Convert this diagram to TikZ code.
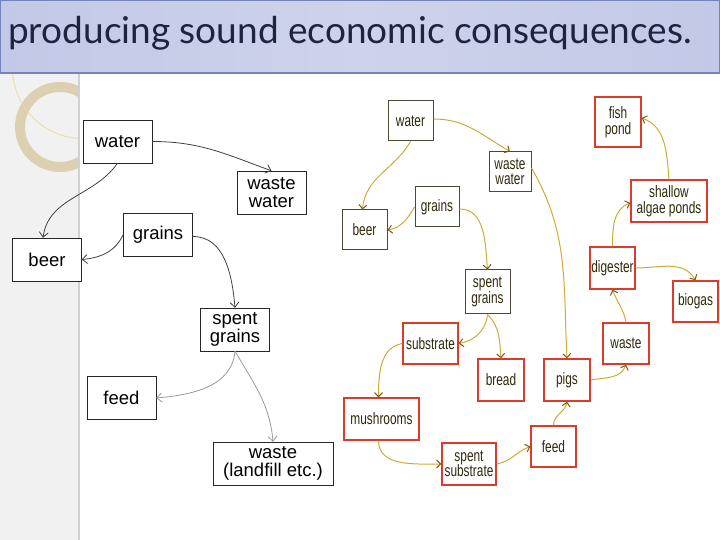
\documentclass[tikz,border=0pt]{standalone}
\usepackage{fontspec}
\setmainfont{Liberation Sans}
\newfontfamily\narrowfont[FakeStretch=0.72]{Liberation Sans}
\newfontfamily\titlefont{Lato}
\usepackage{tikz}
\usetikzlibrary{arrows.meta}
\definecolor{barleft}{HTML}{C2C9E6}
\definecolor{barmid}{HTML}{CDD3EA}
\definecolor{barline}{HTML}{7585BA}
\definecolor{titleink}{HTML}{1E2440}
\definecolor{bandgray}{HTML}{F1F1F1}
\definecolor{ringtan}{HTML}{DDD0B0}
\definecolor{arctan}{HTML}{EBD9A6}
\definecolor{boxbrown}{HTML}{4E4634}
\definecolor{boxred}{HTML}{DB3B2A}
\definecolor{rtext}{HTML}{2E2A0A}
\definecolor{flowgold}{HTML}{D2A836}
\definecolor{tipbrown}{HTML}{7A5A10}

\begin{document}
\begin{tikzpicture}[x=1pt,y=1pt,>={Straight Barb[length=5pt,width=9pt]},
  lbox/.style={draw=black!85,fill=white,align=center,inner sep=1pt,
    minimum width=69pt,minimum height=43pt,font=\fontsize{18.5}{18.5}\selectfont},
  rbox/.style={draw=boxbrown,line width=1pt,fill=white,align=center,inner sep=0pt,
    text=rtext,font=\narrowfont\fontsize{16.5}{15.5}\selectfont},
  redbox/.style={rbox,draw=boxred,line width=1.4pt},
  dflow/.style={->,draw=black!75,line width=0.8pt},
  gflow/.style={->,draw=black!40,line width=0.8pt},
  yflow/.style={-{Straight Barb[length=4pt,width=8pt,color=tipbrown]},draw=flowgold,line width=1pt}]
  \useasboundingbox (0,0) rectangle (720,540);

  % slide background
  \fill[bandgray] (0,0) rectangle (79,467);
  \draw[black!18,line width=2pt] (79,0) -- (79,467);
  \begin{scope}
    \clip (0,0) rectangle (78,467);
    \draw[ringtan,line width=10pt] (60,413) circle (40);
    \draw[arctan,line width=0.8pt] (83,472) circle (70.5);
  \end{scope}

  % title bar
  \shade[left color=barleft,right color=barleft,middle color=barmid] (0,467) rectangle (720,540);
  \draw[barline,line width=1.2pt] (0,467) rectangle (720,540);
  \node[anchor=base west,inner sep=0pt,text=titleink,font=\titlefont\fontsize{37}{40}\selectfont]
    (title) at (8,496) {producing sound economic consequences.};

  % brewery alone
  \node[lbox] (lwater) at (117.5,398.5) {water};
  \node[lbox] (lwastewater) at (271.5,347.5) {waste\\water};
  \node[lbox] (lgrains) at (158,305.5) {grains};
  \node[lbox] (lbeer) at (47,280.5) {beer};
  \node[lbox] (lspent) at (235,210.5) {spent\\grains};
  \node[lbox] (lfeed) at (121.5,142) {feed};
  \node[lbox,minimum width=120pt] (lwaste) at (273,76.5) {waste\\(landfill etc.)};

  \draw[dflow] (lwater.east) to[out=0,in=160] (lwastewater.north);
  \draw[dflow] (lwater.south) to[out=-125,in=82] ([xshift=-4pt]lbeer.north);
  \draw[dflow] (lgrains.west) to[out=-115,in=5] (lbeer.east);
  \draw[dflow] ([yshift=-2pt]lgrains.east) to[out=0,in=95] (lspent.north);
  \draw[gflow] (lspent.south) to[out=-95,in=5] (lfeed.east);
  \draw[gflow] (lspent.south) to[out=-60,in=95] (lwaste.north);

  % integrated system
  \node[rbox,minimum width=45pt,minimum height=40pt] (rwater) at (410.5,419) {water};
  \node[rbox,minimum width=42pt,minimum height=40pt] (rwastewater) at (510,368) {waste\\water};
  \node[rbox,minimum width=44pt,minimum height=40pt] (rgrains) at (437,333) {grains};
  \node[rbox,minimum width=45pt,minimum height=40pt] (rbeer) at (364.5,310) {beer};
  \node[rbox,minimum width=45pt,minimum height=44pt] (rspent) at (487.5,248) {spent\\grains};
  \node[redbox,minimum width=55pt,minimum height=41pt] (rsubstrate) at (430.5,196.5) {substrate};
  \node[redbox,minimum width=46pt,minimum height=42pt] (rbread) at (501,160) {bread};
  \node[redbox,minimum width=46pt,minimum height=42pt] (rpigs) at (567,160) {pigs};
  \node[redbox,minimum width=46pt,minimum height=41pt] (rwaste) at (626,196.5) {waste};
  \node[redbox,minimum width=45pt,minimum height=41pt] (rbiogas) at (695.5,238.5) {biogas};
  \node[redbox,minimum width=75pt,minimum height=42pt] (rmush) at (381.5,121) {mushrooms};
  \node[redbox,minimum width=54pt,minimum height=42pt] (rspentsub) at (469,76) {spent\\substrate};
  \node[redbox,minimum width=45pt,minimum height=41pt] (rfeed) at (553.5,93.5) {feed};
  \node[redbox,minimum width=46pt,minimum height=50pt] (rfish) at (618,418) {fish\\pond};
  \node[redbox,minimum width=76pt,minimum height=42pt] (rshallow) at (669,339) {shallow\\algae ponds};
  \node[redbox,minimum width=45pt,minimum height=42pt] (rdigester) at (612.5,272) {digester};

  \draw[yflow] ([yshift=2pt]rwater.east) to[out=0,in=150] (rwastewater.north);
  \draw[yflow] (rwater.south) to[out=-120,in=85] ([xshift=-2pt]rbeer.north);
  \draw[yflow] (rgrains.west) to[out=-120,in=10] (rbeer.east);
  \draw[yflow] ([yshift=-2pt]rgrains.east) to[out=0,in=95] (rspent.north);
  \draw[yflow] ([yshift=4pt]rwastewater.east) to[out=-60,in=93] (rpigs.north);
  \draw[yflow] (rspent.south) to[out=-95,in=10] (rsubstrate.east);
  \draw[yflow] (rspent.south) to[out=-45,in=95] (rbread.north);
  \draw[yflow] (rsubstrate.west) to[out=190,in=90] ([xshift=-3pt]rmush.north);
  \draw[yflow] ([xshift=-3pt]rmush.south) to[out=-90,in=180] (rspentsub.west);
  \draw[yflow] (rspentsub.east) to[out=10,in=200] (rfeed.west);
  \draw[yflow] (rfeed.north) to[out=90,in=-100] (rpigs.south);
  \draw[yflow] (rpigs.east) to[out=10,in=-110] (rwaste.south);
  \draw[yflow] (rwaste.north) to[out=100,in=-70] (rdigester.south);
  \draw[yflow] (rdigester.east) to[out=0,in=120] (rbiogas.north);
  \draw[yflow] (rdigester.north) to[out=90,in=200] ([yshift=-2pt]rshallow.west);
  \draw[yflow] (rshallow.north) to[out=95,in=-20] ([yshift=4pt]rfish.east);
\end{tikzpicture}
\end{document}
